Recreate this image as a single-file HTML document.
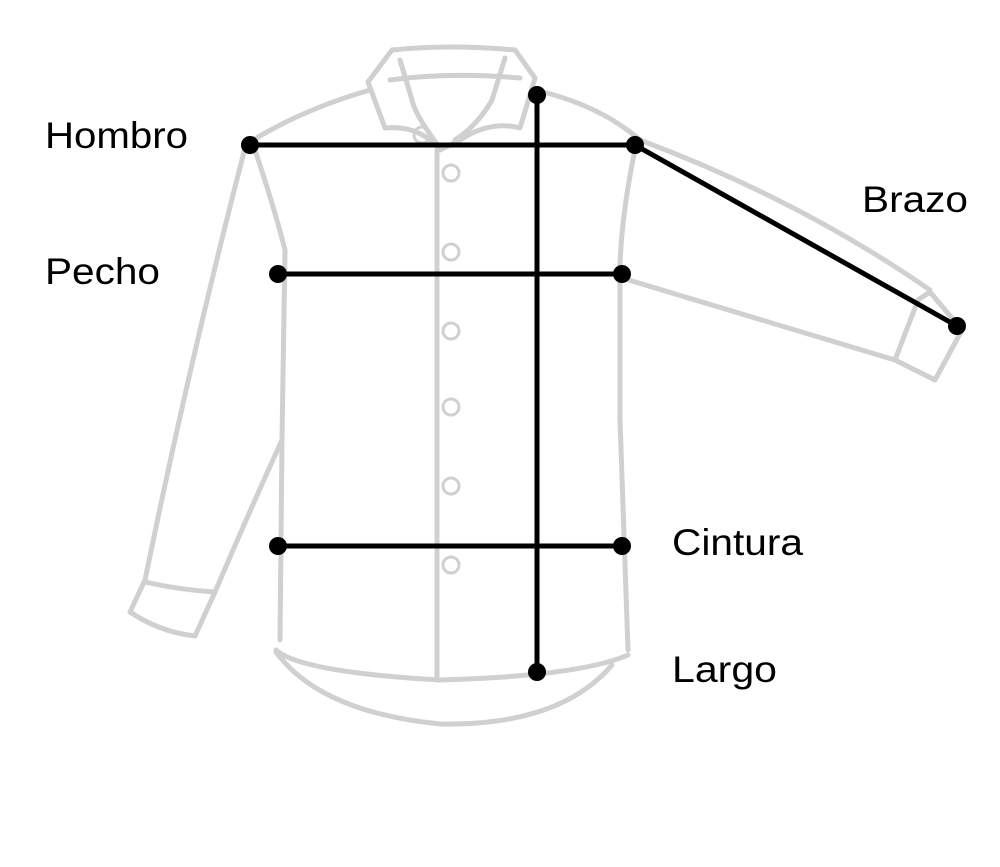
<!DOCTYPE html>
<html><head><meta charset="utf-8"><style>
html,body{margin:0;padding:0;background:#fff;}
svg{display:block}
text{font-family:"Liberation Sans",Arial,sans-serif;font-size:37px;fill:#000}
</style></head><body>
<svg width="1000" height="867" viewBox="0 0 1000 867">
<g fill="none" stroke="#d0d0d0" stroke-width="5" stroke-linejoin="round" stroke-linecap="round">
<path d="M368,82 L392,50 Q450,44 515,50 L535,78 L520,128 Q490,120 460,140 L440,150 Q420,125 385,128 Z"/>
<path d="M400,60 L412,100 Q415,115 440,148 M505,58 L492,100 Q478,125 455,140"/>
<path d="M390,80 Q450,72 520,78"/>
<path d="M370,90 Q300,110 245,145"/>
<path d="M535,90 Q600,105 640,140 Q800,200 930,290"/>
<path d="M245,148 Q190,360 145,580 L130,612 Q160,632 195,636 L215,592 Q250,510 282,440"/>
<path d="M145,582 Q180,590 215,592"/>
<path d="M255,150 Q275,210 285,250 L282,440 L280,640"/>
<path d="M636,145 Q622,210 620,265 L620,420 L628,650"/>
<path d="M622,278 Q760,320 895,360 L935,380 L962,330 L930,292 L918,300 L895,360"/>
<path d="M276,650 Q300,672 440,680 Q580,676 628,655"/>
<path d="M276,652 Q320,712 440,724 Q560,726 612,665"/>
<path d="M437,150 L437,680"/>
</g>
<g fill="none" stroke="#d0d0d0" stroke-width="3">
<circle cx="422" cy="135" r="8"/>
<circle cx="451" cy="173" r="8"/>
<circle cx="451" cy="252" r="8"/>
<circle cx="451" cy="331" r="8"/>
<circle cx="451" cy="407" r="8"/>
<circle cx="451" cy="486" r="8"/>
<circle cx="451" cy="565" r="8"/>
</g>
<g stroke="#000" stroke-width="5" fill="none">
<path d="M250,145 L635,145 L957,326"/>
<path d="M278,274 L622,274"/>
<path d="M278,546 L622,546"/>
<path d="M537,95 L537,672"/>
</g>
<g fill="#000">
<circle cx="250" cy="145" r="9"/><circle cx="635" cy="145" r="9"/><circle cx="957" cy="326" r="9"/>
<circle cx="278" cy="274" r="9"/><circle cx="622" cy="274" r="9"/>
<circle cx="278" cy="546" r="9"/><circle cx="622" cy="546" r="9"/>
<circle cx="537" cy="95" r="9"/><circle cx="537" cy="672" r="9"/>
</g>
<text x="45" y="148" textLength="143" lengthAdjust="spacingAndGlyphs">Hombro</text>
<text x="862" y="212" textLength="106" lengthAdjust="spacingAndGlyphs">Brazo</text>
<text x="45" y="284" textLength="115" lengthAdjust="spacingAndGlyphs">Pecho</text>
<text x="672" y="555" textLength="131" lengthAdjust="spacingAndGlyphs">Cintura</text>
<text x="672" y="682" textLength="105" lengthAdjust="spacingAndGlyphs">Largo</text>
</svg>
</body></html>
